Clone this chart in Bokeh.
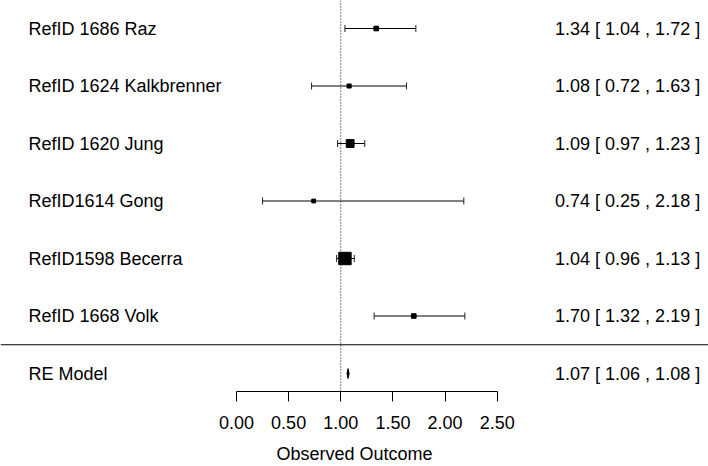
import math
from bokeh.plotting import figure
from bokeh.models import (ColumnDataSource, Range1d, Span, Whisker, TeeHead,
                          FixedTicker, LinearAxis)
from bokeh.core.properties import value
from bokeh.embed import file_html
from bokeh.resources import INLINE

# ---- data ----
studies = ["RefID 1686 Raz", "RefID 1624 Kalkbrenner", "RefID 1620 Jung",
           "RefID1614 Gong", "RefID1598 Becerra", "RefID 1668 Volk"]
est = [1.34, 1.08, 1.09, 0.74, 1.04, 1.70]
lower = [1.04, 0.72, 0.97, 0.25, 0.96, 1.32]
upper = [1.72, 1.63, 1.23, 2.18, 1.13, 2.19]
model_label = "RE Model"
model_est = 1.07
model_lower = 1.06
model_upper = 1.08
tick_values = [0.0, 0.5, 1.0, 1.5, 2.0, 2.5]
tick_labels = ["0.00", "0.50", "1.00", "1.50", "2.00", "2.50"]
x_title = "Observed Outcome"

FONT = "Liberation Sans"
FS = "18px"
n = len(studies)
rows = [n + 1 - i for i in range(n)]      # 7..2
model_row = 1

# weights 1/var from CI width (log scale) -> marker size
w = [1.0 / ((math.log(u) - math.log(l)) / 3.92) ** 2 for l, u in zip(lower, upper)]
wmin, wmax = min(w), max(w)
sizes = [3.8 + 8.6 * (wi - wmin) / (wmax - wmin) for wi in w]

ci_text = [f"{e:.2f} [ {l:.2f} , {u:.2f} ]" for e, l, u in zip(est, lower, upper)]
model_text = f"{model_est:.2f} [ {model_lower:.2f} , {model_upper:.2f} ]"

src = ColumnDataSource(dict(y=rows, est=est, lb=lower, ub=upper,
                            size=sizes, name=studies, ci=ci_text))

X0, X1 = -2.2631, 4.5263
p = figure(width=708, height=466, output_backend="svg", toolbar_location=None,
           x_range=Range1d(X0, X1), y_range=Range1d(0.687, 7.487),
           x_axis_location=None, y_axis_location=None,
           min_border_left=0, min_border_right=0, min_border_top=0, min_border_bottom=0)
p.outline_line_color = None
p.xgrid.visible = False
p.ygrid.visible = False
p.background_fill_color = "white"
p.border_fill_color = "white"

xaxis = LinearAxis(bounds=(0, 2.5), ticker=FixedTicker(ticks=tick_values),
                   axis_label=x_title)
xaxis.major_label_overrides = {v: s for v, s in zip(tick_values, tick_labels)}
xaxis.major_tick_out = 10
xaxis.major_tick_in = 0
xaxis.minor_tick_out = 0
xaxis.minor_tick_in = 0
xaxis.major_label_standoff = 14
xaxis.axis_label_standoff = 12
xaxis.axis_line_color = "black"
xaxis.major_tick_line_color = "black"
xaxis.major_label_text_font = FONT
xaxis.major_label_text_font_size = FS
xaxis.major_label_text_color = "black"
xaxis.axis_label_text_font = FONT
xaxis.axis_label_text_font_size = FS
xaxis.axis_label_text_font_style = "normal"
xaxis.axis_label_text_color = "black"
p.add_layout(xaxis, "below")

# reference line and separator
p.add_layout(Span(location=1.0, dimension="height", line_color="black",
                  line_width=1, line_dash="1 2"))
p.add_layout(Span(location=1.5, dimension="width", line_color="black", line_width=1))

# CIs
wh = Whisker(source=src, base="y", lower="lb", upper="ub", dimension="width",
             line_color="black", line_width=1,
             lower_head=TeeHead(size=7, line_color="#222222", line_width=1),
             upper_head=TeeHead(size=7, line_color="#222222", line_width=1))
p.add_layout(wh)
p.scatter(x="est", y="y", size="size", marker="square", color="black", source=src)

# summary diamond
h = 0.085
p.patch(x=[model_lower, model_est, model_upper, model_est],
        y=[model_row, model_row + h, model_row, model_row - h],
        fill_color="black", line_color="black", line_width=1)

# texts
LEFT_X = -1.9946
RIGHT_X = 4.4463
p.text(x=LEFT_X, y="y", text="name", source=src, text_font=value(FONT),
       text_font_size=FS, text_baseline="middle", text_align="left", text_color="black")
p.text(x=RIGHT_X, y="y", text="ci", source=src, text_font=value(FONT),
       text_font_size=FS, text_baseline="middle", text_align="right", text_color="black")
p.text(x=[LEFT_X], y=[model_row], text=[model_label], text_font=value(FONT),
       text_font_size=FS, text_baseline="middle", text_align="left", text_color="black")
p.text(x=[RIGHT_X], y=[model_row], text=[model_text], text_font=value(FONT),
       text_font_size=FS, text_baseline="middle", text_align="right", text_color="black")

open("out.html", "w").write(file_html(p, INLINE))
